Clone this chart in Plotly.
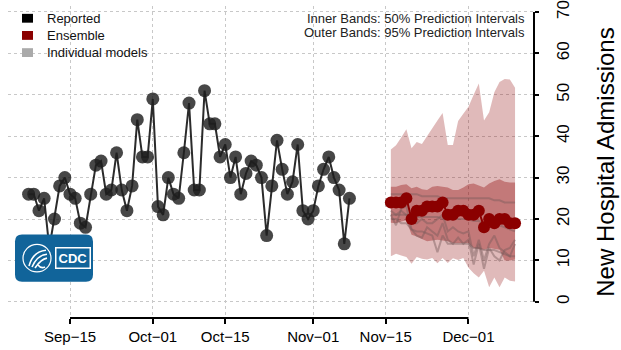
import pandas as pd
import plotly.graph_objects as go

# ---------------- data ----------------
reported_start = "2021-09-07"
reported = [26, 26, 22, 25, 13, 20, 28, 30, 26, 25, 19, 18, 26, 33, 34, 26, 27, 36, 27, 22,
            28, 44, 35, 35,
            49, 23, 21, 30, 26, 25, 36, 48, 27, 27, 51, 43, 43, 35, 38, 30, 35, 26, 31, 34,
            33, 30, 16, 28, 39, 32, 26, 29, 38, 22, 20,
            22, 28, 32, 35, 30, 27, 14, 25]

forecast_start = "2021-11-16"
ensemble = [24, 24, 24, 25, 20, 22, 22, 23, 23, 23, 24, 21, 21, 22, 22, 21, 21, 22, 18, 20,
            19, 20, 20, 19, 19]
q025 = [11.0, 11.6, 11.2, 10.8, 9.2, 10.8, 10.4, 10.2, 10.6, 9.3, 10.6, 9.4, 10.5, 10.1, 10.6,
        8.2, 6.9, 5.9, 7.5, 3.5, 5.9, 3.5, 5.9, 5.1, 4.9]
q975 = [36.8, 37.8, 39.7, 41.7, 37.1, 38.6, 38.1, 40.1, 42.1, 43.8, 45.6, 37.9, 37.9, 43.7,
        45.4, 47.1, 50.0, 52.7, 43.8, 45.8, 50.6, 53.1, 53.8, 53.7, 51.7]
q25 = [19.1, 19.0, 19.4, 19.7, 16.2, 15.8, 15.2, 14.6, 14.8, 15.0, 14.8, 14.6, 14.2, 14.2,
       14.2, 14.2, 13.0, 12.8, 12.6, 13.0, 12.8, 12.6, 10.0, 10.0, 10.2]
q75 = [27.8, 27.8, 28.2, 28.4, 27.4, 27.8, 27.2, 27.0, 27.8, 28.0, 27.8, 27.6, 27.0, 27.0,
       27.6, 28.4, 28.6, 28.0, 27.6, 28.6, 29.2, 29.6, 29.0, 28.8, 28.8]

model_a = [26, 26, 26, 26, 26, 26, 25.5, 25.5, 25.5, 25.5, 25, 25, 25, 25, 25, 25, 25, 25, 25,
           25, 24.5, 24.5, 24, 24, 24]
model_b = [21, 21, 21, 21, 20.5, 20.5, 20.5, 20.5, 20.5, 20.5, 20, 20, 20, 20, 20, 20, 19.5,
           19.5, 19, 19, 18.5, 18.5, 18, 17.5, 17]
model_c = [21, 18.5, 22.5, 23, 17.5, 16, 15.5, 18, 17, 16, 19, 15, 14, 15.5, 14, 15, 9, 14,
           8, 13, 11, 10, 12.5, 13, 15]
model_d = [20, 20, 19, 19, 17.5, 17, 17, 16.5, 16, 12, 16, 14, 14, 14, 14, 14, 13, 13, 12.5,
           12.5, 12.5, 12, 11.5, 11, 11]
model_e = [22, 21, 22, 21, 19, 19, 20, 19, 19, 20, 21, 17, 18, 17, 16.5, 17, 11, 15, 10, 14,
           16, 13, 12, 11, 14]
models = [model_a, model_b, model_c, model_d, model_e]

tick_dates = ["2021-09-15", "2021-10-01", "2021-10-15", "2021-11-01", "2021-11-15", "2021-12-01"]
tick_text = ["Sep\u221215", "Oct\u221201", "Oct\u221215", "Nov\u221201", "Nov\u221215", "Dec\u221201"]
y_ticks = [0, 10, 20, 30, 40, 50, 60, 70]

legend_names = ["Reported", "Ensemble", "Individual models"]
legend_colors = ["black", "#8B0000", "#AAAAAA"]

# ---------------- figure ----------------
rep_x = pd.date_range(reported_start, periods=len(reported))
fc_x = pd.date_range(forecast_start, periods=len(ensemble))

DARKRED = "#8B0000"
FONT = "Liberation Sans, Arial, Helvetica, sans-serif"
fig = go.Figure()

# 95% band
fig.add_trace(go.Scatter(x=fc_x, y=q025, mode="lines", line=dict(width=0),
                         showlegend=False, hoverinfo="skip"))
fig.add_trace(go.Scatter(x=fc_x, y=q975, mode="lines", line=dict(width=0),
                         fill="tonexty", fillcolor="rgba(139,0,0,0.27)",
                         showlegend=False, hoverinfo="skip"))
# 50% band
fig.add_trace(go.Scatter(x=fc_x, y=q25, mode="lines", line=dict(width=0),
                         showlegend=False, hoverinfo="skip"))
fig.add_trace(go.Scatter(x=fc_x, y=q75, mode="lines", line=dict(width=0),
                         fill="tonexty", fillcolor="rgba(139,0,0,0.35)",
                         showlegend=False, hoverinfo="skip"))

# individual models
for m in models:
    fig.add_trace(go.Scatter(x=fc_x, y=m, mode="lines",
                             line=dict(color="rgba(120,90,90,0.45)", width=2),
                             showlegend=False))

# ensemble median
fig.add_trace(go.Scatter(x=fc_x, y=ensemble, mode="lines+markers",
                         line=dict(color=DARKRED, width=2),
                         marker=dict(color=DARKRED, size=12),
                         showlegend=False))

# reported data
fig.add_trace(go.Scatter(x=rep_x, y=reported, mode="lines+markers",
                         line=dict(color="rgba(20,20,20,0.9)", width=2),
                         marker=dict(color="rgba(30,30,30,0.82)", size=13),
                         showlegend=False))

# ---------------- layout helpers ----------------
L, R, T, B = 8, 87, 0, 32
W, H = 621, 350
PW, PH = W - L - R, H - T - B


def px(p):
    return (p - L) / PW


def py(p):
    return (H - B - p) / PH


shapes = [
    dict(type="line", xref="x", yref="paper", x0=tick_dates[0], x1=tick_dates[-1],
         y0=0, y1=0, line=dict(color="black", width=2)),
    dict(type="line", xref="paper", yref="y", x0=1, x1=1, y0=0, y1=70,
         line=dict(color="black", width=2)),
]
annotations = []

# legend: filled squares with labels
for i, (name, col) in enumerate(zip(legend_names, legend_colors)):
    cy = 12.5 + 17.5 * i
    shapes.append(dict(type="rect", xref="paper", yref="paper",
                       x0=px(22), x1=px(33), y0=py(cy + 4.5), y1=py(cy - 4.5),
                       fillcolor=col, line=dict(width=0)))
    annotations.append(dict(text=name, xref="paper", yref="paper", x=px(45), y=py(cy),
                            xanchor="left", yanchor="middle", showarrow=False,
                            font=dict(size=13, color="#111")))

# CDC badge (rounded rectangle with emblem)
x0, x1, y0, y1, r = 15, 93, 233, 281, 7
pts = (f"M {px(x0 + r)},{py(y0)} L {px(x1 - r)},{py(y0)} "
       f"Q {px(x1)},{py(y0)} {px(x1)},{py(y0 + r)} L {px(x1)},{py(y1 - r)} "
       f"Q {px(x1)},{py(y1)} {px(x1 - r)},{py(y1)} L {px(x0 + r)},{py(y1)} "
       f"Q {px(x0)},{py(y1)} {px(x0)},{py(y1 - r)} L {px(x0)},{py(y0 + r)} "
       f"Q {px(x0)},{py(y0)} {px(x0 + r)},{py(y0)} Z")
shapes.append(dict(type="path", xref="paper", yref="paper", path=pts,
                   fillcolor="#11649A", line=dict(width=0), layer="above"))
shapes.append(dict(type="circle", xref="paper", yref="paper",
                   x0=px(23), x1=px(51), y0=py(271), y1=py(243),
                   line=dict(color="white", width=1.2), layer="above"))
for (ax, ay, cx, cy, bx, by) in [(29, 265, 33, 250, 46, 249),
                                 (32, 266, 37, 254, 47, 253),
                                 (35, 267, 41, 258, 47, 257),
                                 (38, 264, 41, 268, 45, 266)]:
    shapes.append(dict(type="path", xref="paper", yref="paper",
                       path=f"M {px(ax)},{py(ay)} Q {px(cx)},{py(cy)} {px(bx)},{py(by)}",
                       line=dict(color="white", width=1.6), layer="above"))

annotations.append(dict(text="<b>CDC</b>", xref="paper", yref="paper",
                        x=px(72.5), y=py(257), xanchor="center", yanchor="middle",
                        showarrow=False, bgcolor="#11649A", bordercolor="white",
                        borderwidth=1.5, borderpad=2,
                        font=dict(family=FONT, size=13, color="white")))
annotations.append(dict(text="Inner Bands: 50% Prediction Intervals", xref="paper",
                        yref="paper", x=px(527), y=py(13), xanchor="right",
                        yanchor="middle", showarrow=False, font=dict(size=13, color="#222")))
annotations.append(dict(text="Outer Bands: 95% Prediction Intervals", xref="paper",
                        yref="paper", x=px(527), y=py(27), xanchor="right",
                        yanchor="middle", showarrow=False, font=dict(size=13, color="#222")))

x_lo = pd.Timestamp(tick_dates[0]) - pd.Timedelta(days=(70 - L) / 5.175)
x_hi = pd.Timestamp(tick_dates[0]) + pd.Timedelta(days=(W - R - 70) / 5.175)
y_per = 4.22
y_lo = -(H - B - 301.5) / y_per
y_hi = 301.5 / y_per

fig.update_layout(
    width=W, height=H, autosize=False,
    margin=dict(l=L, r=R, t=T, b=B),
    paper_bgcolor="white", plot_bgcolor="white",
    font=dict(family=FONT, color="black"),
    showlegend=False,
    shapes=shapes,
    annotations=annotations,
    xaxis=dict(range=[x_lo, x_hi], tickvals=tick_dates, ticktext=tick_text,
               ticks="outside", ticklen=5, tickwidth=2, tickcolor="black",
               tickfont=dict(size=15), showline=False, zeroline=False,
               showgrid=True, gridcolor="#c8c8c8", griddash="dot", gridwidth=1),
    yaxis=dict(range=[y_lo, y_hi], side="right", tickvals=y_ticks,
               ticks="outside", ticklen=4, tickwidth=2, tickcolor="black",
               tickangle=-90, tickfont=dict(size=17), ticklabelstandoff=10,
               ticklabeloverflow="allow",
               showline=False, zeroline=False,
               showgrid=True, gridcolor="#c8c8c8", griddash="dot", gridwidth=1,
               title=dict(text="New Hospital Admissions", font=dict(size=24), standoff=24)),
)

fig.write_html("out.html")
